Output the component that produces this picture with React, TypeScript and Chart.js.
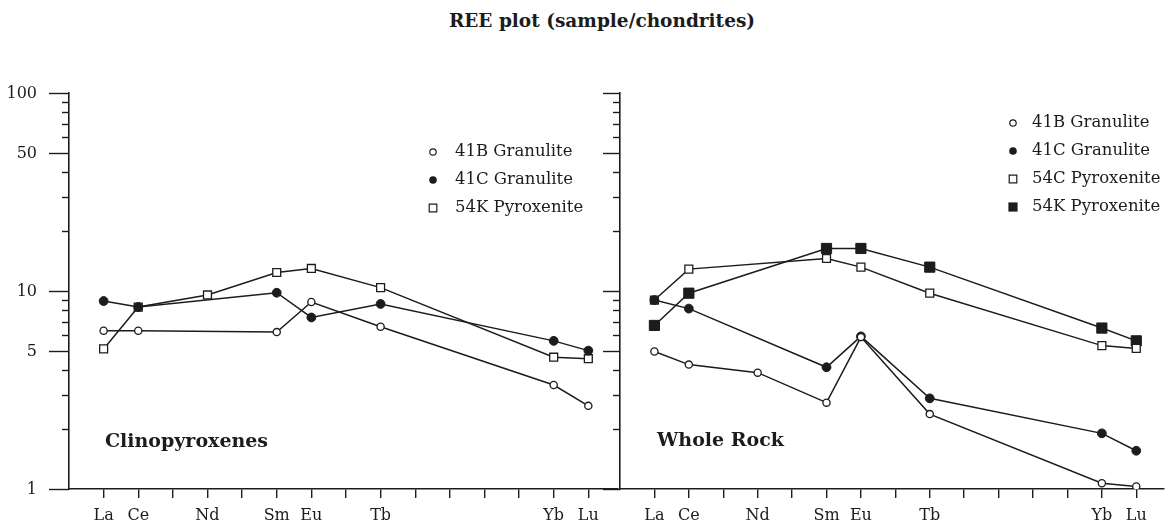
import React, { useEffect, useRef } from 'react';
import { Chart, registerables } from 'chart.js';

Chart.register(...registerables);

// ---------- data ----------
const ELEMENTS = ['La', 'Ce', 'Nd', 'Sm', 'Eu', 'Tb', 'Yb', 'Lu'];
const ATOMIC_NUMBERS = [57, 58, 60, 62, 63, 65, 70, 71];
const AXIS_TICK_LABELS = ['La', 'Ce', '', 'Nd', '', 'Sm', 'Eu', '', 'Tb', '', '', '', '', 'Yb', 'Lu'];
const AXIS_TICK_START = 57;
const Y_LABELLED_TICKS = [1, 5, 10, 50, 100];
const Y_MINOR_TICKS = [2, 3, 4, 6, 7, 8, 9, 20, 30, 40, 60, 70, 80, 90];

const TITLE = 'REE plot (sample/chondrites)';
const LEFT_PANEL_LABEL = 'Clinopyroxenes';
const RIGHT_PANEL_LABEL = 'Whole Rock';

// Clinopyroxenes
const CPX_41B = [6.3, 6.3, null, 6.2, 8.8, 6.6, 3.35, 2.63];
const CPX_41C = [8.9, 8.3, null, 9.8, 7.35, 8.6, 5.6, 5.0];
const CPX_54K = [5.1, 8.3, 9.55, 12.4, 13.0, 10.4, 4.63, 4.55];

// Whole rock
const WR_41B = [4.95, 4.25, 3.87, 2.73, 5.85, 2.39, 1.07, 1.03];
const WR_41C = [9.0, 8.15, null, 4.12, 5.9, 2.87, 1.91, 1.56];
const WR_54C = [9.0, 12.9, null, 14.6, 13.2, 9.75, 5.3, 5.13];
const WR_54K = [6.7, 9.75, null, 16.4, 16.4, 13.2, 6.5, 5.6];

// ---------- styles ----------
const INK = '#1c1c1c';
const FONT = "'DejaVu Serif', serif";

const MARKERS: Record<string, any> = {
  openCircle: { pointStyle: 'circle', pointRadius: 3.6, pointBackgroundColor: '#ffffff', pointBorderWidth: 1.3 },
  filledCircle: { pointStyle: 'circle', pointRadius: 4.4, pointBackgroundColor: INK, pointBorderWidth: 1 },
  openSquare: { pointStyle: 'rect', pointRadius: 5.6, pointBackgroundColor: '#ffffff', pointBorderWidth: 1.3 },
  filledSquare: { pointStyle: 'rect', pointRadius: 7.2, pointBackgroundColor: INK, pointBorderWidth: 1 },
};

function series(label: string, values: (number | null)[], marker: string) {
  const data = ATOMIC_NUMBERS.map((x, i) => ({ x, y: values[i] })).filter((p) => p.y !== null);
  return {
    label,
    data,
    showLine: true,
    borderColor: INK,
    borderWidth: 1.5,
    pointBorderColor: INK,
    pointHoverRadius: 0,
    ...MARKERS[marker],
    _marker: marker,
  };
}

function drawMarker(ctx: CanvasRenderingContext2D, marker: string, x: number, y: number) {
  ctx.save();
  ctx.strokeStyle = INK;
  ctx.lineWidth = 1.2;
  ctx.beginPath();
  if (marker === 'openCircle' || marker === 'filledCircle') {
    ctx.arc(x, y, marker === 'openCircle' ? 3.2 : 3.8, 0, Math.PI * 2);
  } else {
    const s = marker === 'openSquare' ? 3.8 : 4.6;
    ctx.rect(x - s, y - s, 2 * s, 2 * s);
  }
  if (marker.startsWith('filled')) {
    ctx.fillStyle = INK;
    ctx.fill();
  } else {
    ctx.fillStyle = '#fff';
    ctx.fill();
    ctx.stroke();
  }
  ctx.restore();
}

const decorPlugin = {
  id: 'panelDecor',
  afterDraw(chart: any, _args: any, opts: any) {
    const ctx: CanvasRenderingContext2D = chart.ctx;
    const area = chart.chartArea;
    const yScale = chart.scales.y;
    ctx.save();
    // y tick marks (major and minor), pointing left from the axis
    ctx.strokeStyle = INK;
    ctx.lineWidth = 1.4;
    const drawTick = (v: number, len: number) => {
      const py = Math.round(yScale.getPixelForValue(v)) + 0.5;
      ctx.beginPath();
      ctx.moveTo(area.left - len, py);
      ctx.lineTo(area.left, py);
      ctx.stroke();
    };
    Y_LABELLED_TICKS.forEach((v) => drawTick(v, opts.majorLen));
    Y_MINOR_TICKS.forEach((v) => drawTick(v, opts.minorLen));

    // y tick labels
    if (opts.yLabels) {
      ctx.font = `16px ${FONT}`;
      ctx.fillStyle = INK;
      ctx.textAlign = 'right';
      ctx.textBaseline = 'middle';
      Y_LABELLED_TICKS.forEach((v) => {
        ctx.fillText(String(v), area.left - opts.yLabelGap, yScale.getPixelForValue(v) + 1);
      });
    }

    // legend
    ctx.font = `16.5px ${FONT}`;
    ctx.fillStyle = INK;
    ctx.textBaseline = 'middle';
    ctx.textAlign = 'left';
    chart.data.datasets.forEach((ds: any, i: number) => {
      const ly = opts.legendY + i * opts.legendRow;
      drawMarker(ctx, ds._marker, opts.legendX, ly);
      ctx.fillStyle = INK;
      ctx.fillText(ds.label, opts.legendX + opts.legendGap, ly);
    });

    // panel label
    ctx.font = `bold 19px ${FONT}`;
    ctx.textBaseline = 'alphabetic';
    ctx.fillText(opts.panelLabel, opts.panelLabelX, opts.panelLabelY);
    ctx.restore();
  },
};

function makeConfig(datasets: any[], o: any) {
  return {
    type: 'scatter',
    data: { datasets },
    plugins: [decorPlugin],
    options: {
      responsive: false,
      animation: false,
      events: [],
      layout: { padding: { top: 93, right: o.padRight, left: 0, bottom: 0 } },
      plugins: {
        legend: { display: false },
        tooltip: { enabled: false },
        title: { display: false },
        panelDecor: o.decor,
      },
      scales: {
        x: {
          type: 'linear',
          min: 56,
          max: o.xMax,
          afterBuildTicks: (s: any) => {
            s.ticks = AXIS_TICK_LABELS.map((_, i) => ({ value: AXIS_TICK_START + i }));
          },
          afterFit: (s: any) => {
            s.height = 36;
          },
          border: { display: true, color: INK, width: 1.6 },
          grid: { display: true, drawOnChartArea: false, drawTicks: true, tickLength: 9, color: INK, lineWidth: 1.4 },
          ticks: {
            autoSkip: false,
            maxRotation: 0,
            padding: 8,
            color: INK,
            font: { family: FONT, size: 16 },
            callback: (v: number) => AXIS_TICK_LABELS[Math.round(v) - AXIS_TICK_START] ?? '',
          },
        },
        y: {
          type: 'logarithmic',
          min: 1,
          max: 100,
          afterBuildTicks: (s: any) => {
            s.ticks = Y_LABELLED_TICKS.map((v) => ({ value: v }));
          },
          afterFit: (s: any) => {
            s.width = o.yWidth;
          },
          border: { display: true, color: INK, width: 1.6 },
          grid: { display: false, drawTicks: false },
          ticks: { display: false },
        },
      },
    },
  };
}

export default function App() {
  const leftRef = useRef<HTMLCanvasElement>(null);
  const rightRef = useRef<HTMLCanvasElement>(null);

  useEffect(() => {
    document.body.style.margin = '0';
    const left = new Chart(
      leftRef.current as HTMLCanvasElement,
      makeConfig(
        [
          series('41B Granulite', CPX_41B, 'openCircle'),
          series('41C Granulite', CPX_41C, 'filledCircle'),
          series('54K Pyroxenite', CPX_54K, 'openSquare'),
        ],
        {
          padRight: 5,
          xMax: 71.86,
          yWidth: 69,
          decor: {
            majorLen: 20,
            minorLen: 7,
            yLabels: true,
            yLabelGap: 32,
            legendX: 433,
            legendY: 152,
            legendRow: 28,
            legendGap: 22,
            panelLabel: LEFT_PANEL_LABEL,
            panelLabelX: 105,
            panelLabelY: 447,
          },
        }
      ) as any
    );
    const right = new Chart(
      rightRef.current as HTMLCanvasElement,
      makeConfig(
        [
          series('41B Granulite', WR_41B, 'openCircle'),
          series('41C Granulite', WR_41C, 'filledCircle'),
          series('54C Pyroxenite', WR_54C, 'openSquare'),
          series('54K Pyroxenite', WR_54K, 'filledSquare'),
        ],
        {
          padRight: 7,
          xMax: 71.8,
          yWidth: 20,
          decor: {
            majorLen: 17,
            minorLen: 7,
            yLabels: false,
            legendX: 413,
            legendY: 123,
            legendRow: 28,
            legendGap: 19,
            panelLabel: RIGHT_PANEL_LABEL,
            panelLabelX: 57,
            panelLabelY: 446,
          },
        }
      ) as any
    );
    return () => {
      left.destroy();
      right.destroy();
    };
  }, []);

  return (
    <div style={{ position: 'relative', width: 1172, height: 525, background: '#ffffff', overflow: 'hidden' }}>
      <div
        style={{
          position: 'absolute',
          left: 402,
          top: 8,
          width: 400,
          textAlign: 'center',
          fontFamily: FONT,
          fontWeight: 'bold',
          fontSize: 18.5,
          color: INK,
          lineHeight: '26px',
        }}
      >
        {TITLE}
      </div>
      <canvas ref={leftRef} width={625} height={525} style={{ position: 'absolute', left: 0, top: 0 }} />
      <canvas ref={rightRef} width={572} height={525} style={{ position: 'absolute', left: 600, top: 0 }} />
    </div>
  );
}
